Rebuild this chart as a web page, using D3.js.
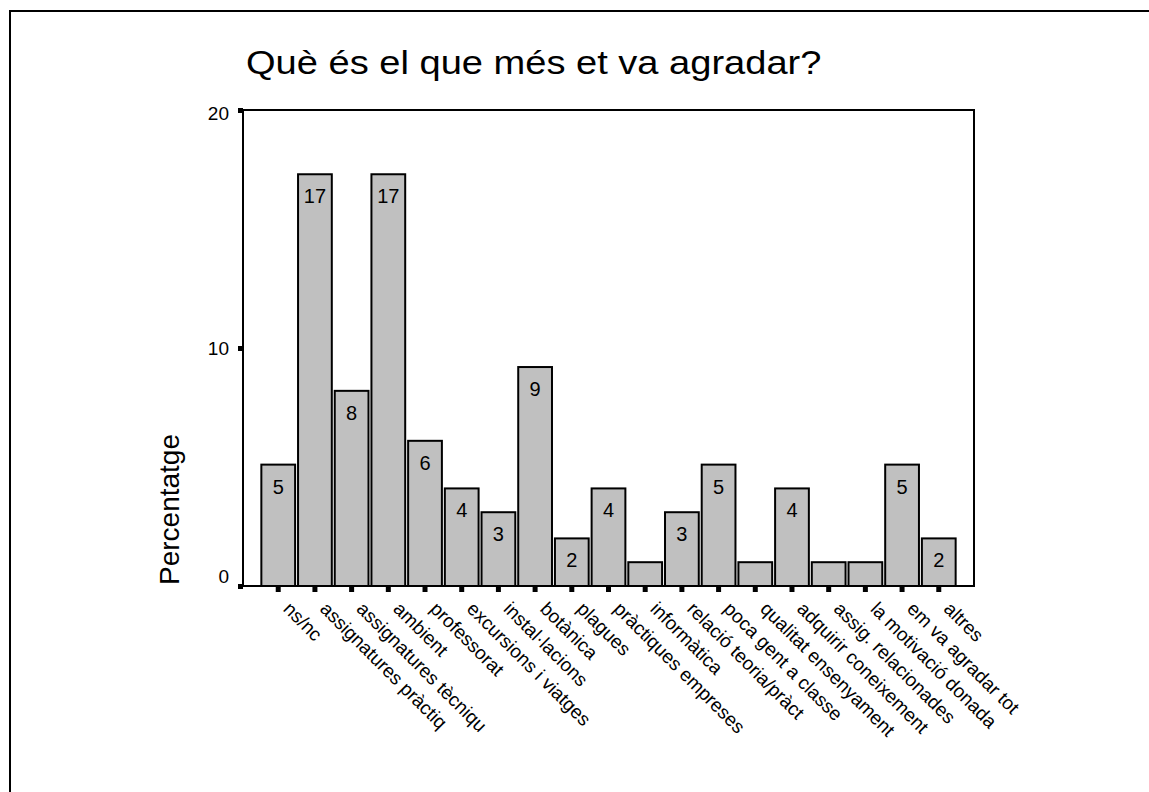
<!DOCTYPE html>
<html>
<head>
<meta charset="utf-8">
<script src="https://cdn.jsdelivr.net/npm/d3@7"></script>
<style>
  body { margin: 0; background: #fff; }
  text { font-family: Arial, "Liberation Sans", sans-serif; fill: #000; }
</style>
</head>
<body>
<svg id="grafic"></svg>
<script>
// categories (etiquetes de l'eix x)
var categories = ['ns/nc', 'assignatures pràctiq', 'assignatures tècniqu', 'ambient',
  'professorat', 'excursions i viatges', 'instal·lacions', 'botànica', 'plagues',
  'pràctiques empreses', 'informàtica', 'relació teoria/pràct', 'poca gent a classe',
  'qualitat ensenyament', 'adquirir coneixement', 'assig. relacionades',
  'la motivació donada', 'em va agradar tot', 'altres'];

// percentatges llegits del gràfic
var percentatges = [5.1, 17.3, 8.2, 17.3, 6.1, 4.1, 3.1, 9.2, 2.0, 4.1,
  1.0, 3.1, 5.1, 1.0, 4.1, 1.0, 1.0, 5.1, 2.0];

var yTicks = [0, 10, 20];

var titol = 'Què és el que més et va agradar?';
var etiquetaY = 'Percentatge';

// atur mida i marges
var W = 1149, H = 792;
var margin = {top: 110, right: 175, bottom: 206, left: 243},
  width = W - margin.left - margin.right,
  height = H - margin.top - margin.bottom;

var svg = d3.select('#grafic')
  .attr('width', W)
  .attr('height', H);

// marc exterior
svg.append('rect')
  .attr('x', 10).attr('y', 11)
  .attr('width', W + 20).attr('height', H + 20)
  .attr('fill', 'none')
  .attr('stroke', '#000')
  .attr('stroke-width', 2);

// titol (una mica eixamplat, com a l'original)
svg.append('text')
  .attr('transform', 'translate(246,74) scale(1.12,1)')
  .style('font-size', '34px')
  .text(titol);

var g = svg.append('g')
  .attr('transform', 'translate(' + margin.left + ',' + margin.top + ')');

var x = d3.scaleBand()
  .domain(categories)
  .range([0, width])
  .paddingInner(0.08)
  .paddingOuter(0.5);

var y = d3.scaleLinear()
  .domain([0, 20])
  .range([height, 0]);

// caixa del gràfic
g.append('rect')
  .attr('x', 0).attr('y', 0)
  .attr('width', width).attr('height', height)
  .attr('fill', 'none')
  .attr('stroke', '#000')
  .attr('stroke-width', 2);

// barres
g.selectAll('.barra')
  .data(percentatges)
  .enter().append('rect')
  .attr('class', 'barra')
  .attr('x', function(d, i) { return x(categories[i]); })
  .attr('y', function(d) { return y(d); })
  .attr('width', x.bandwidth())
  .attr('height', function(d) { return height - y(d); })
  .attr('fill', '#c0c0c0')
  .attr('stroke', '#000')
  .attr('stroke-width', 2);

// valors dins les barres (no hi caben per a 1)
g.selectAll('.valor')
  .data(percentatges)
  .enter().append('text')
  .attr('class', 'valor')
  .attr('x', function(d, i) { return x(categories[i]) + x.bandwidth() / 2; })
  .attr('y', function(d) { return y(d) + 29; })
  .attr('text-anchor', 'middle')
  .style('font-size', '20px')
  .text(function(d) { return Math.round(d) >= 2 ? Math.round(d) : ''; });

// eix y
var yAxis = d3.axisLeft(y).tickValues(yTicks).tickSize(5).tickPadding(9);
var ay = g.append('g').attr('class', 'y axis').call(yAxis);
ay.select('.domain').remove();
ay.selectAll('.tick line').attr('stroke', '#000').attr('stroke-width', 5);
ay.selectAll('.tick text')
  .style('font-size', '19px')
  .attr('font-family', null)
  .attr('dy', function(d) { return d === 0 ? '-0.17em' : d === 20 ? '0.5em' : '0.32em'; });

// eix x
var xAxis = d3.axisBottom(x).tickSize(6).tickFormat('');
var ax = g.append('g').attr('class', 'x axis')
  .attr('transform', 'translate(0,' + height + ')')
  .call(xAxis);
ax.select('.domain').remove();
ax.selectAll('.tick line').attr('stroke', '#000').attr('stroke-width', 5);

g.selectAll('.etiqueta')
  .data(categories)
  .enter().append('text')
  .attr('class', 'etiqueta')
  .attr('transform', function(d) {
    return 'translate(' + (x(d) + x.bandwidth() / 2 + 4) + ',' + (height + 24) + ') rotate(45)';
  })
  .style('font-size', '19px')
  .text(function(d) { return d; });

// etiqueta eix y
svg.append('text')
  .attr('transform', 'translate(179,585) rotate(-90)')
  .style('font-size', '28px')
  .text(etiquetaY);
</script>
</body>
</html>
